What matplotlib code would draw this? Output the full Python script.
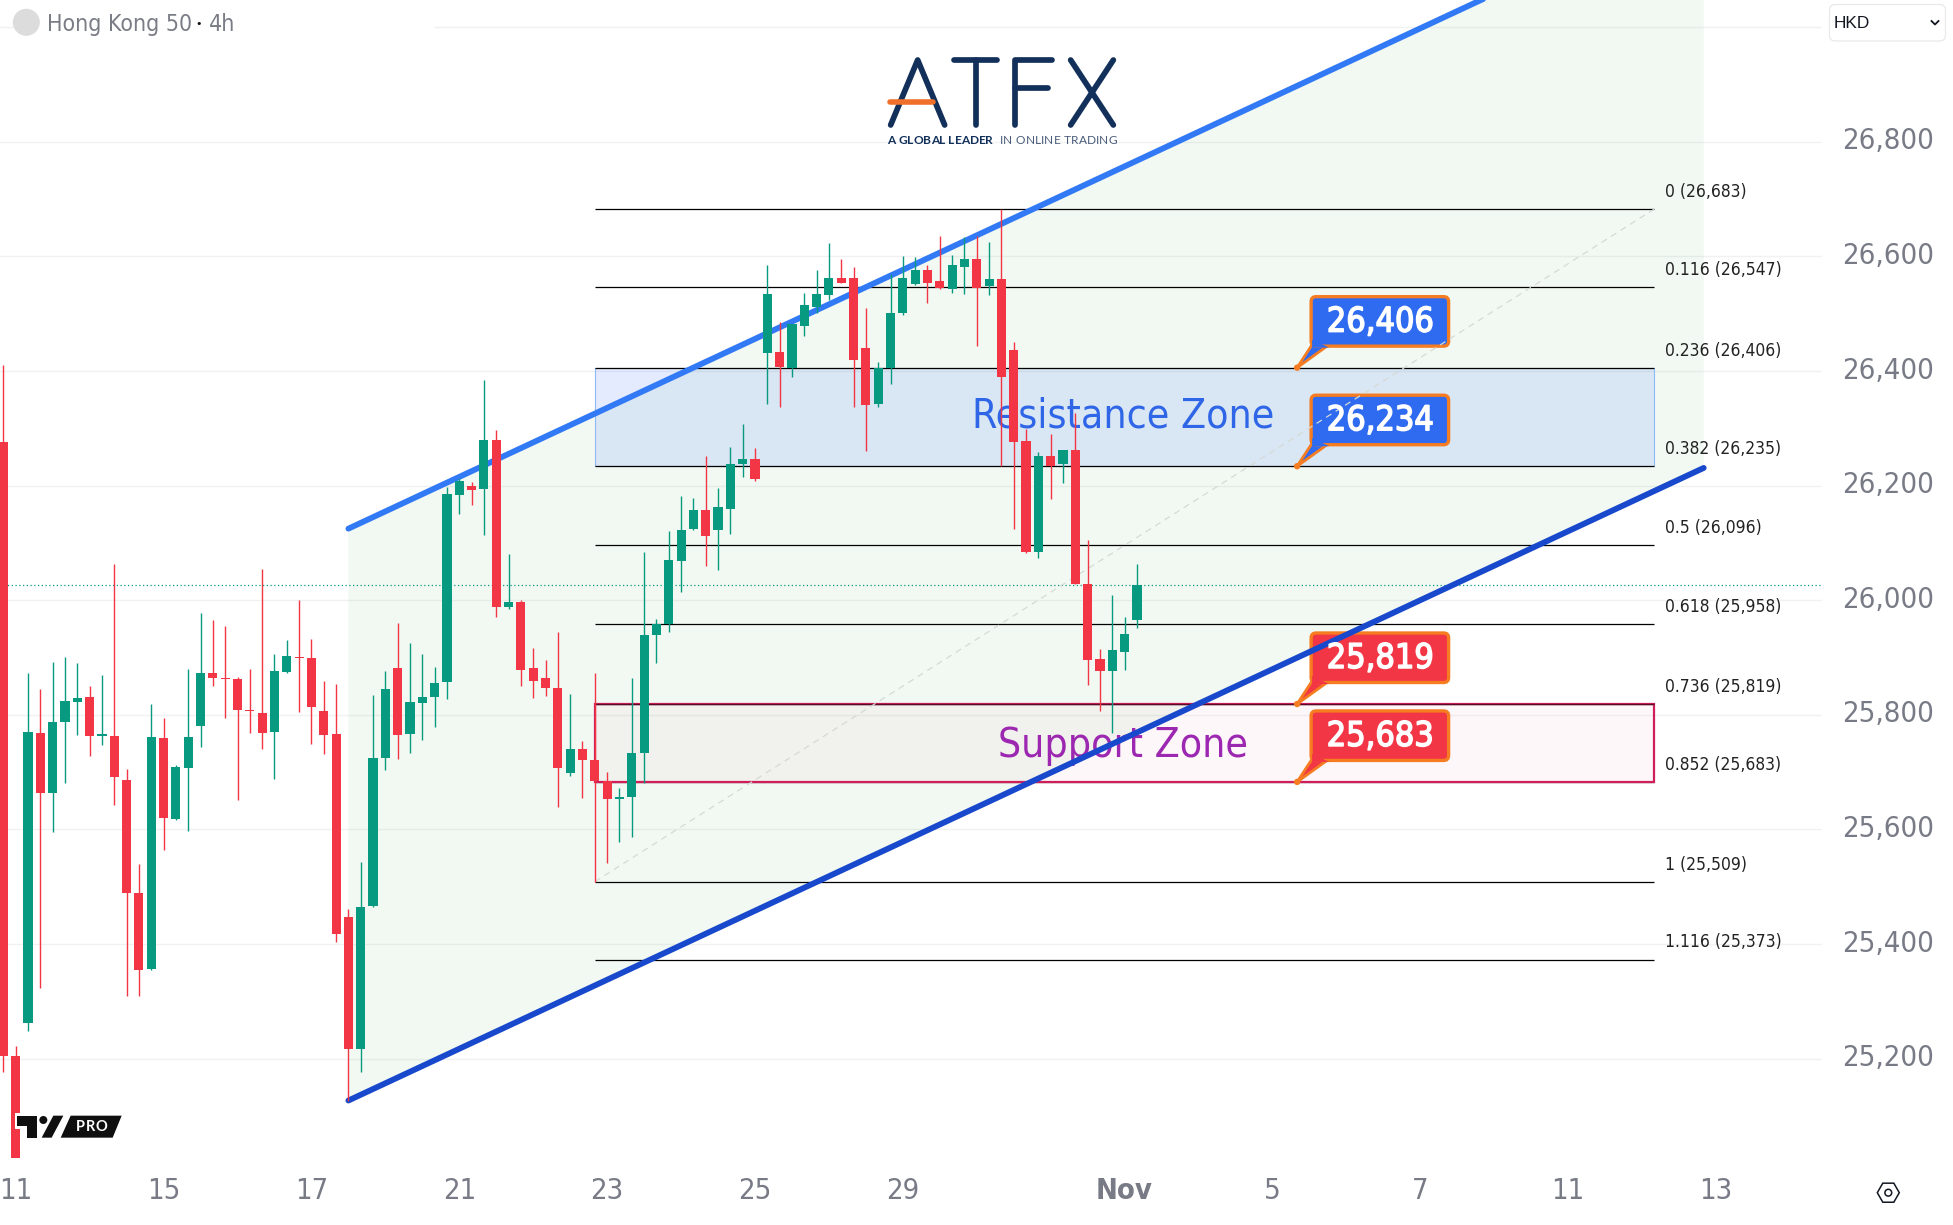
import numpy as np
import matplotlib
matplotlib.use("Agg")
import matplotlib.pyplot as plt
from matplotlib.patches import Polygon, Rectangle, FancyBboxPatch, Circle, RegularPolygon
from matplotlib.transforms import ScaledTranslation
import matplotlib.patheffects as pe

W, H = 1953, 1225

# candle data (one 4h bar per entry)
opens = [26277,25204,25262,25768,25664,25787,25822,25832,25764,25764,25687,25490,25356,25760,25618,25707,
         25780,25873,25864,25863,25809,25804,25771,25874,25901,25899,25806,25767,25448,25217,25466,25724,
         25882,25766,25821,25831,25857,26183,26199,26195,26279,25988,25997,25882,25864,25847,25699,25741,
         25721,25685,25654,25656,25734,25939,25959,26069,26125,26158,26123,26160,26237,26247,26431,26434,
         26406,26479,26512,26532,26562,26562,26440,26343,26405,26501,26552,26577,26557,26544,26582,26596,
         26549,26560,26437,26278,26084,26251,26237,26262,26029,25898,25877,25910,25966]
closes = [25204,25026,25770,25664,25788,25824,25830,25763,25765,25691,25489,25354,25762,25620,25709,25762,
          25873,25864,25863,25809,25807,25769,25877,25903,25899,25813,25765,25417,25217,25465,25725,25846,
          25765,25822,25832,25856,26186,26208,26193,26279,25988,25997,25879,25859,25847,25707,25741,25721,
          25685,25654,25656,25734,25940,25959,26071,26123,26158,26112,26162,26238,26246,26212,26535,26407,
          26483,26516,26535,26563,26553,26420,26341,26406,26501,26562,26577,26554,26545,26585,26596,26545,
          26560,26389,26277,26084,26252,26234,26262,26029,25896,25877,25913,25941,26027]
highs = [26410,25222,25873,25846,25892,25901,25891,25850,25870,26064,25706,25540,25819,25794,25713,25880,
         25978,25965,25955,25866,25880,26054,25907,25931,26000,25933,25859,25854,25461,25543,25835,25877,
         25961,25925,25907,25884,26197,26213,26207,26384,26298,26081,26000,25917,25896,25945,25837,25754,
         25873,25700,25672,25865,26084,25968,26121,26182,26179,26251,26196,26268,26308,26266,26586,26486,
         26483,26537,26577,26623,26595,26581,26510,26415,26569,26600,26599,26585,26635,26603,26634,26635,
         26626,26683,26450,26299,26259,26291,26262,26326,26106,25915,26009,25971,26064]
lows = [25176,25026,25248,25323,25595,25681,25765,25728,25747,25642,25309,25310,25354,25565,25616,25598,
        25744,25851,25795,25652,25768,25741,25688,25873,25805,25750,25732,25403,25127,25177,25464,25703,
        25723,25734,25757,25779,25828,26150,26167,26114,25971,25984,25851,25829,25833,25640,25694,25655,
        25509,25542,25579,25587,25682,25891,25944,26015,26123,26060,26053,26116,26215,26209,26343,26338,
        26390,26462,26501,26524,26553,26338,26260,26338,26378,26498,26550,26518,26543,26537,26535,26443,
        26532,26234,26124,26082,26073,26176,26204,26028,25852,25807,25768,25879,25951]

last_price = 26026
price_ticks = [25200, 25400, 25600, 25800, 26000, 26200, 26400, 26600, 26800]
date_ticks = [1, 13, 25, 37, 49, 61, 73, 91, 103, 115, 127, 139]
date_labels = ["11", "15", "17", "21", "23", "25", "29", "Nov", "5", "7", "11", "13"]

fib_ratios = ["0", "0.116", "0.236", "0.382", "0.5", "0.618", "0.736", "0.852", "1", "1.116"]
fib_levels = [26683, 26547, 26406, 26235, 26096, 25958, 25819, 25683, 25509, 25373]
fib_start, fib_end = 48, 134
fib_low, fib_high = 25509, 26683

channel_x = [28, 138]
channel_upper = [26125, 27229]
channel_lower = [25127, 26231]

resistance_zone = (26235, 26406)
support_zone = (25683, 25819)
callout_bar = 105
callout_prices = [26406, 26234, 25819, 25683]
callout_text = ["26,406", "26,234", "25,819", "25,683"]
callout_colors = ["#2E6BF0", "#2E6BF0", "#F23645", "#F23645"]

GREEN, RED = "#089981", "#F23645"
COND = dict(family="DejaVu Sans", stretch="condensed")
dpi = 100
fig = plt.figure(figsize=(W / dpi, H / dpi), dpi=dpi, facecolor="white")
ax = fig.add_axes([0, (H - 1158) / H, 1822 / W, 1158 / H])
ax.set_xlim(-0.276, 147.6)
ax.set_ylim(25026.7, 27047.6)
for s in ax.spines.values():
    s.set_visible(False)
ax.yaxis.tick_right()
ax.set_yticks(price_ticks + [27000])
ax.set_yticklabels([f"{p:,}" for p in price_ticks] + [""], color="#787B86", fontsize=21, **COND)
ax.set_xticks(date_ticks)
ax.set_xticklabels(date_labels, color="#787B86", fontsize=21, **COND)
ax.tick_params(axis="y", length=0, pad=14.4)
ax.tick_params(axis="x", length=0, pad=14)
lift = ScaledTranslation(0, 3.5 / dpi, fig.dpi_scale_trans)
for lab in ax.get_yticklabels():
    lab.set_transform(lab.get_transform() + lift)
for lab, txt in zip(ax.get_xticklabels(), date_labels):
    if txt == "Nov":
        lab.set_fontweight("bold")
ax.set_axisbelow(True)
ax.grid(axis="y", color="#F0F1F3", lw=1)

# overlay in pixel coordinates for furniture
ov = fig.add_axes([0, 0, 1, 1], zorder=10)
ov.set_xlim(0, W)
ov.set_ylim(H, 0)
ov.axis("off")
ov.patch.set_alpha(0)

# channel fill and lines
cx = channel_x
ax.add_patch(Polygon([(cx[0], channel_upper[0]), (cx[1], channel_upper[1]), (cx[1], channel_lower[1]), (cx[0], channel_lower[0])],
                     closed=True, fc="#4CAF50", alpha=0.07, ec="none", zorder=1))
ax.plot(cx, channel_upper, color="#3179F5", lw=4.2, solid_capstyle="round", zorder=3)
ax.plot(cx, channel_lower, color="#1848CC", lw=4.2, solid_capstyle="round", zorder=3)

# zones
ax.add_patch(Rectangle((fib_start, resistance_zone[0]), fib_end - fib_start, resistance_zone[1] - resistance_zone[0],
                       fc=(0.16, 0.38, 1, 0.12), ec="#90B8F5", lw=0.8, zorder=1.5))
# fib
ax.hlines(fib_levels, fib_start, fib_end, color="#000000", lw=0.9, zorder=2)
ax.add_patch(Rectangle((fib_start, support_zone[0]), fib_end - fib_start, support_zone[1] - support_zone[0],
                       fc=(0.91, 0.12, 0.39, 0.03), ec="#D01E5A", lw=1.6, zorder=2.1))
ax.hlines([support_zone[1]], fib_start, fib_end, color="#5A0A28", lw=0.9, zorder=2.2)
for r, lv in zip(fib_ratios, fib_levels):
    ax.annotate(f"{r} ({lv:,})", xy=(fib_end, lv), xytext=(7.9, 12.3), textcoords="offset points",
                va="center", ha="left", fontsize=12.5, color="#222222", **COND)
ax.plot([fib_start, fib_end], [fib_low, fib_high], color="#D5DAD5", lw=0.9, ls=(0, (5, 4)), zorder=3.5)
ax.axhline(last_price, color=GREEN, lw=0.9, ls=(0, (1, 2)), zorder=2)

mid = (fib_start + fib_end) / 2 - 0.1
ax.text(mid, sum(resistance_zone) / 2 + 0, "Resistance Zone", color="#2F66E8", fontsize=29.3, ha="center", va="center", zorder=2.5, **COND)
ax.text(mid, sum(support_zone) / 2 - 5, "Support Zone", color="#9C27B0", fontsize=29.3, ha="center", va="center", zorder=2.5, **COND)

# candles
x = np.arange(len(opens))
o, c, h, l = map(np.array, (opens, closes, highs, lows))
cols = [GREEN if cc >= oo else RED for oo, cc in zip(o, c)]
ax.vlines(x, l, h, color=cols, lw=1.0, zorder=4)
ax.bar(x, np.maximum(np.abs(c - o), 2), bottom=np.minimum(o, c), width=0.74, color=cols, zorder=4.1)

# callouts
to_px = lambda xx, yy: ov.transData.inverted().transform(ax.transData.transform((xx, yy)))
for price, txt, col in zip(callout_prices, callout_text, callout_colors):
    ax_, ay_ = to_px(callout_bar, price)
    kw = dict(transform=ov.transData, clip_on=False)
    ax.add_patch(FancyBboxPatch((ax_ + 14, ay_ - 71), 137.5, 49.5, boxstyle="round,pad=0,rounding_size=5",
                                fc=col, ec="#F57C20", lw=2.4, zorder=2.8, **kw))
    ax.add_patch(Polygon([(ax_, ay_), (ax_ + 15, ay_ - 23), (ax_ + 32, ay_ - 23)], closed=True, fc=col, ec="#F57C20", lw=2.0, zorder=2.75, **kw))
    ax.add_patch(Polygon([(ax_ + 15, ay_ - 20), (ax_ + 32, ay_ - 20), (ax_ + 15, ay_ - 28)], closed=True, fc=col, ec="none", zorder=2.85, **kw))
    ax.add_patch(Circle((ax_, ay_), 3.2, fc="#F57C20", ec="none", zorder=2.9, **kw))
    ax.text(ax_ + 83, ay_ - 45.5, txt, color="white", fontsize=24.5, ha="center", va="center", zorder=4.5,
            path_effects=[pe.withStroke(linewidth=1.1, foreground="white")], **kw, **COND)

# header
ov.add_patch(Rectangle((14, 14), 420, 26, fc="white", ec="none"))
ov.add_patch(Circle((26.3, 22.3), 13.5, fc="#DCDCDC", ec="none"))
ov.text(46.7, 24.5, "Hong Kong 50", color="#7A7D85", fontsize=16.6, va="center", ha="left", **COND)
ov.text(199, 24, "•", color="#111111", fontsize=8, va="center", ha="center", family="DejaVu Sans")
ov.text(208.7, 24.5, "4h", color="#7A7D85", fontsize=16.6, va="center", ha="left", **COND)

# HKD selector
ov.add_patch(FancyBboxPatch((1829.5, 4.5), 116, 36.5, boxstyle="round,pad=0,rounding_size=6", fc="white", ec="#E8E9EC", lw=0.9))
ov.text(1833.5, 24, "HKD", family="Liberation Sans", fontsize=12.4, color="#131722", va="center", ha="left")
ov.plot([1931.5, 1935, 1938.5], [21, 24.5, 21], color="#131722", lw=1.3)

# gear icon
ov.add_patch(RegularPolygon((1888.3, 1192.7), 6, radius=11, orientation=np.pi / 6, fc="white", ec="#131722", lw=1.1))
ov.add_patch(Circle((1888.3, 1192.7), 3.4, fc="white", ec="#131722", lw=1.1))

# ATFX logo
NAVY, ORANGE = "#12305A", "#F0702B"
lz = lambda pts: ([780 + p[0] / 3 for p in pts], [p[1] / 3 for p in pts])
strokes = [[(332, 375), (413, 180), (494, 375)], [(522, 180), (652, 180)], [(588, 180), (588, 375)],
           [(705, 375), (705, 180), (815, 180)], [(705, 265), (805, 265)],
           [(872, 180), (1000, 375)], [(1000, 180), (872, 375)]]
for st in strokes:
    xs, ys = lz(st)
    ov.plot(xs, ys, color=NAVY, lw=4.1, solid_capstyle="round", solid_joinstyle="round")
xs, ys = lz([(330, 306), (458, 306)])
ov.plot(xs, ys, color=ORANGE, lw=4.0, solid_capstyle="round")

renderer = fig.canvas.get_renderer()
def tracked(s, x0, x1, y, **kw):
    t = ov.text(0, 0, "x", **kw)
    prop = t.get_fontproperties()
    t.remove()
    ws = []
    for ch in s:
        if ch == " ":
            ws.append(prop.get_size_in_points() * dpi / 72 * 0.28)
        else:
            ws.append(renderer.get_text_width_height_descent(ch, prop, False)[0])
    gap = (x1 - x0 - sum(ws)) / (len(s) - 1)
    xp = x0
    for ch, w in zip(s, ws):
        if ch != " ":
            ov.text(xp, y, ch, ha="left", va="center", **kw)
        xp += w + gap
tracked("A GLOBAL LEADER", 887, 993, 141, family="Lato", fontweight="bold", fontsize=8.6, color=NAVY)
tracked("IN ONLINE TRADING", 1000, 1117, 141, family="Lato", fontweight="normal", fontsize=8.6, color="#4A5C7A")

# TV PRO logo
tv = lambda pts: [(p[0] / 3, 1090 + p[1] / 3) for p in pts]
ov.add_patch(Polygon(tv([(45, 68), (64, 68), (64, 116), (45, 116)]), fc="white", ec="none"))
ov.add_patch(Polygon(tv([(52, 77), (110, 77), (110, 143), (80, 143), (80, 108), (52, 108)]), fc="#0F0F0F", ec="none"))
ov.add_patch(Circle((130 / 3, 1090 + 90 / 3), 4, fc="#0F0F0F", ec="none"))
ov.add_patch(Polygon(tv([(160, 77), (190, 77), (155, 143), (125, 143)]), fc="#0F0F0F", ec="none"))
ov.add_patch(Polygon(tv([(212, 77), (365, 77), (338, 143), (182, 143)]), fc="#0F0F0F", ec="none"))
tracked("PRO", 76, 107.5, 1090 + 110 / 3, color="white", fontsize=10.5, fontweight="bold", family="Lato")

fig.savefig("out.png", dpi=dpi, facecolor="white")
